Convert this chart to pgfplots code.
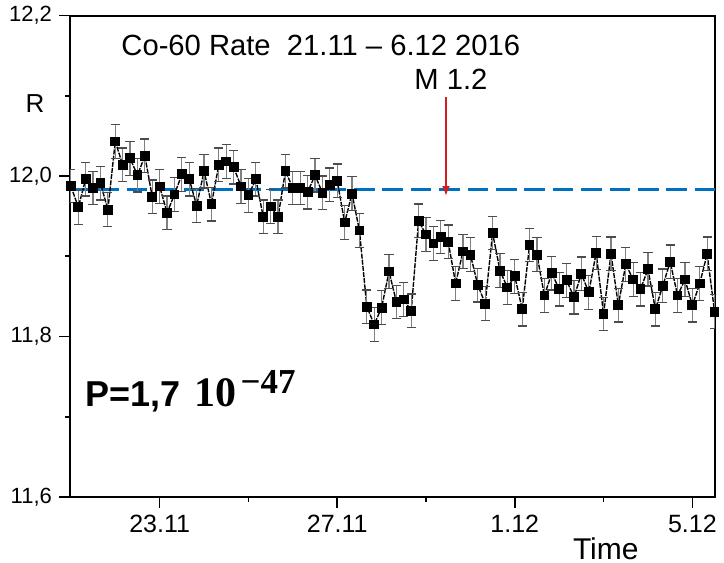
\documentclass[border=0pt]{standalone}
\usepackage{fontspec}
\setmainfont{Liberation Sans}
\newfontfamily\pserif{Liberation Serif}
\usepackage{pgfplots}
\pgfplotsset{compat=1.18}
\usepackage{pgfplotstable}
\usetikzlibrary{arrows.meta}
\definecolor{refblue}{RGB}{0,112,192}
\definecolor{refred}{RGB}{210,30,30}
\pgfplotstableread{
x y
21.000 11.9875
21.167 11.961
21.333 11.996
21.500 11.985
21.667 11.991
21.833 11.958
22.000 12.043
22.167 12.014
22.333 12.022
22.500 12.001
22.667 12.025
22.833 11.974
23.000 11.987
23.167 11.954
23.333 11.977
23.500 12.002
23.667 11.996
23.833 11.963
24.000 12.006
24.167 11.965
24.333 12.014
24.500 12.018
24.667 12.011
24.833 11.987
25.000 11.976
25.167 11.996
25.333 11.949
25.500 11.962
25.667 11.949
25.833 12.006
26.000 11.985
26.167 11.985
26.333 11.980
26.500 12.001
26.667 11.979
26.833 11.989
27.000 11.994
27.167 11.942
27.333 11.978
27.500 11.932
27.667 11.837
27.833 11.815
28.000 11.836
28.167 11.881
28.333 11.843
28.500 11.846
28.667 11.832
28.833 11.944
29.000 11.927
29.167 11.916
29.333 11.924
29.500 11.918
29.667 11.866
29.833 11.906
30.000 11.902
30.167 11.864
30.333 11.841
30.500 11.929
30.667 11.882
30.833 11.861
31.000 11.875
31.167 11.834
31.333 11.914
31.500 11.902
31.667 11.851
31.833 11.879
32.000 11.859
32.167 11.870
32.333 11.849
32.500 11.878
32.667 11.855
32.833 11.904
33.000 11.828
33.167 11.903
33.333 11.839
33.500 11.890
33.667 11.871
33.833 11.859
34.000 11.884
34.167 11.834
34.333 11.863
34.500 11.893
34.667 11.851
34.833 11.871
35.000 11.839
35.167 11.866
35.333 11.903
35.500 11.831
}\ratedata
\begin{document}
\begin{tikzpicture}
\begin{axis}[
  name=ax,
  scale only axis,
  width=322.5pt, height=240.75pt,
  xmin=20.98, xmax=35.51, ymin=11.6, ymax=12.2,
  xtick={23,27,31,35}, xticklabels={23.11,27.11,1.12,5.12},
  minor xtick={25,29,33},
  ytick={11.6,11.8,12.0,12.2}, yticklabels={{11,6},{11,8},{12,0},{12,2}},
  minor ytick={11.7,11.9,12.1},
  tick align=outside, tick pos=left,
  major tick length=5.5pt, minor tick length=2.5pt,
  tick style={black, line width=0.8pt},
  axis line style={black, line width=1pt},
  /pgf/number format/assume math mode=true,
  xticklabel style={font=\fontsize{12.5}{15}\selectfont},
  yticklabel style={font=\fontsize{11}{13}\selectfont},
  clip mode=individual,
]
\addplot[refblue, line width=1.5pt, dash pattern=on 10.3pt off 3.9pt] coordinates {(20.98,11.983) (35.51,11.983)};
\addplot[black, line width=0.7pt, dash pattern=on 2.5pt off 0.6pt,
  mark=square*, mark size=2.1pt, mark options={solid, fill=black},
  error bars/.cd, y dir=both, y fixed=0.021,
  error bar style={gray, line width=0.6pt, solid},
  error mark options={gray!60!black, mark size=2.3pt, line width=0.6pt, rotate=90}]
  table[x=x, y=y] {\ratedata};
\coordinate (arrtop) at (axis cs:29.45,12.098);
\coordinate (arrtip) at (axis cs:29.45,11.975);
\coordinate (ttl) at (axis cs:22.13,12.163);
\coordinate (mlab) at (axis cs:29.56,12.12);
\coordinate (rlab) at (axis cs:20.19,12.0897);
\coordinate (plab) at (axis cs:21.32,11.713);
\coordinate (tlab) at (axis cs:33.05,11.5355);
\end{axis}
\draw[refred, line width=1pt, -{Latex[length=5pt,width=4pt]}] (arrtop) -- (arrtip);
\node[anchor=west, font=\fontsize{14.6}{17}\selectfont, inner sep=0pt] at (ttl) {Co-60 Rate~~21.11 -- 6.12 2016};
\node[font=\fontsize{14.6}{17}\selectfont, inner sep=0pt] at (mlab) {M 1.2};
\node[font=\fontsize{13}{15}\selectfont, inner sep=0pt] at (rlab) {R};
\node[anchor=base west, font=\fontsize{18}{22}\selectfont, inner sep=0pt] at (plab) {\textbf{P=1,7}\hspace{7pt}{\pserif\bfseries\fontsize{21}{24}\selectfont 10\hspace{2pt}\raisebox{6.5pt}{\fontsize{17.5}{20}\selectfont\textminus47}}};
\node[font=\fontsize{15}{18}\selectfont, inner sep=0pt] at (tlab) {Time};
\pgfresetboundingbox
\path ([xshift=-35pt,yshift=-33pt]ax.south west) rectangle ([xshift=4.5pt,yshift=7.75pt]ax.north east);
\end{tikzpicture}
\end{document}
